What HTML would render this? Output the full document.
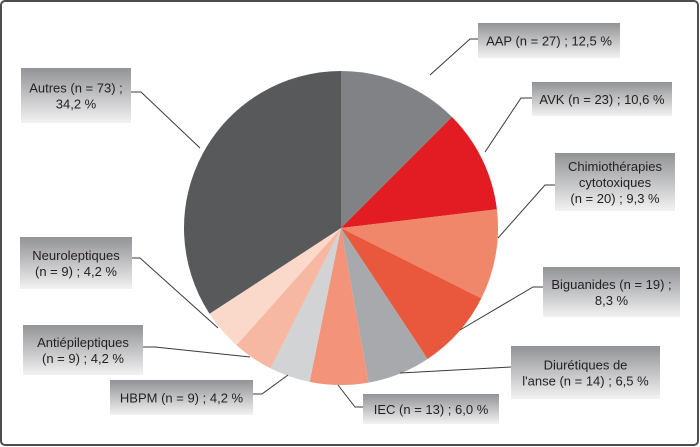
<!DOCTYPE html>
<html><head><meta charset="utf-8"><style>
html,body{margin:0;padding:0;background:#fff}
svg{display:block}
text{font-family:"Liberation Sans",sans-serif;font-size:13px;fill:#231f20}
</style></head><body>
<svg width="700" height="447" viewBox="0 0 700 447">
<defs><linearGradient id="g" x1="0" y1="0" x2="0" y2="1"><stop offset="0" stop-color="#929396"/><stop offset="1" stop-color="#f2f2f2"/></linearGradient></defs>
<rect x="1" y="1" width="697" height="444" rx="4" fill="#fff" stroke="#4d4d4f" stroke-width="2"/>
<g id="slices"></g>
<g id="labels"></g>
</svg>
<script>
const categories=["AAP","AVK","Chimiothérapies cytotoxiques","Biguanides","Diurétiques de l'anse","IEC","HBPM","Antiépileptiques","Neuroleptiques","Autres"];
const counts=[27,23,20,19,14,13,9,9,9,73];
const percents=[12.5,10.6,9.3,8.3,6.5,6.0,4.2,4.2,4.2,34.2];
const colors=["#808285","#e31b23","#f0866a","#e9583d","#a7a9ac","#f2937a","#d1d3d4","#f6b8a2","#fbd9ca","#58595b"];
const labelLines=[["AAP (n = 27) ; 12,5 %"],["AVK (n = 23) ; 10,6 %"],["Chimiothérapies","cytotoxiques","(n = 20) ; 9,3 %"],["Biguanides (n = 19) ;","8,3 %"],["Diurétiques de","l'anse (n = 14) ; 6,5 %"],["IEC (n = 13) ; 6,0 %"],["HBPM (n = 9) ; 4,2 %"],["Antiépileptiques","(n = 9) ; 4,2 %"],["Neuroleptiques","(n = 9) ; 4,2 %"],["Autres (n = 73) ;","34,2 %"]];
const boxes=[[478,23,142,35],[532,82,140,34],[555,153,120,58],[543,267,137,50],[511,346,149,53],[363,394,136,30],[110,380,143,35],[23,325,120,50],[20,237,112,52],[21,68,110,55]];
const leaders=[[[478,39],[470,39],[430,75]],[[532,98],[521,98],[485,152]],[[555,185],[545,185],[498,238]],[[543,287],[533,287],[460,330]],[[511,367],[400,373]],[[363,407],[355,407],[338,385]],[[253,394],[262,394],[288,375]],[[143,347],[155,347],[250,357]],[[132,258],[140,258],[218,328]],[[131,92],[141,92],[200,148]]];
const cx=341,cy=228,r=157;
const NS="http://www.w3.org/2000/svg";
const sg=document.getElementById('slices'),lg=document.getElementById('labels');
const total=percents.reduce((a,b)=>a+b,0);
function pt(a){return [cx+r*Math.sin(a),cy-r*Math.cos(a)];}
let acc=0;
percents.forEach((p,i)=>{
 const a0=acc/total*2*Math.PI;acc+=p;const a1=acc/total*2*Math.PI;
 const [x0,y0]=pt(a0),[x1,y1]=pt(a1);
 const path=document.createElementNS(NS,'path');
 path.setAttribute('d',`M${cx},${cy}L${x0},${y0}A${r},${r} 0 ${a1-a0>Math.PI?1:0} 1 ${x1},${y1}Z`);
 path.setAttribute('fill',colors[i]);
 
 
 sg.appendChild(path);
});
categories.forEach((c,i)=>{
 const pl=document.createElementNS(NS,'polyline');
 pl.setAttribute('points',leaders[i].map(q=>q.join(',')).join(' '));
 pl.setAttribute('fill','none');pl.setAttribute('stroke','#3a3a3a');pl.setAttribute('stroke-width','1');
 
 
 lg.appendChild(pl);
 const [bx,by,bw,bh]=boxes[i];
 const rc=document.createElementNS(NS,'rect');
 rc.setAttribute('x',bx);rc.setAttribute('y',by);rc.setAttribute('width',bw);rc.setAttribute('height',bh);rc.setAttribute('fill','url(#g)');
 
 
 lg.appendChild(rc);
 const ls=labelLines[i],lh=16;
 const y0=by+bh/2-(ls.length-1)*lh/2+5;
 ls.forEach((s,j)=>{
  const t=document.createElementNS(NS,'text');
  t.setAttribute('x',bx+bw/2);t.setAttribute('y',y0+j*lh);t.setAttribute('text-anchor','middle');
  t.textContent=s;
  
  
  lg.appendChild(t);
 });
});
</script>
</body></html>
